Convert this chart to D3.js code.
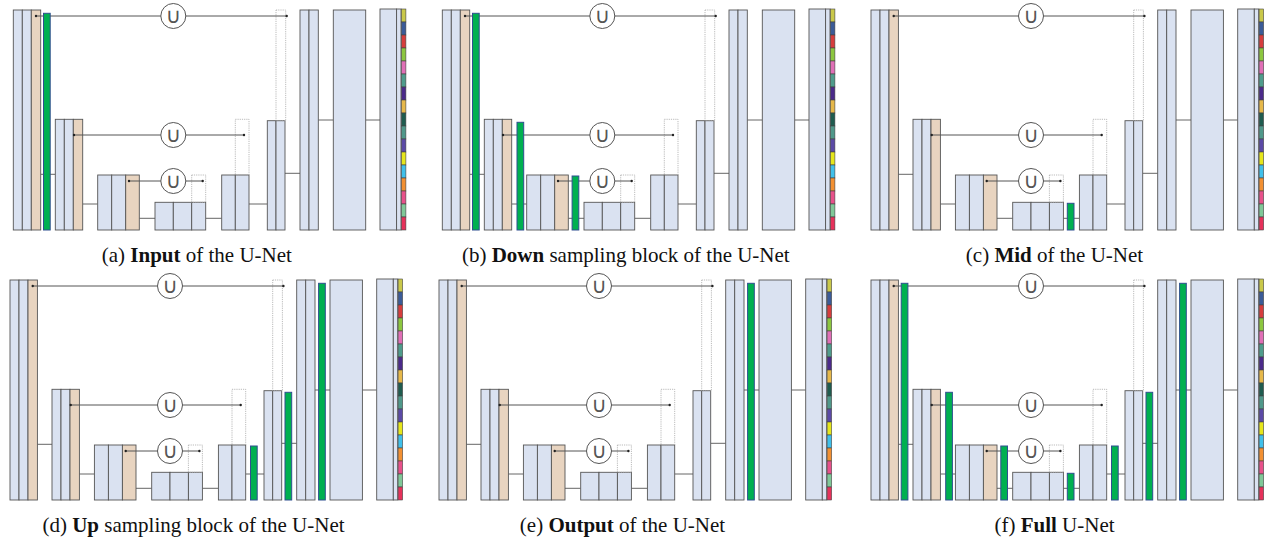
<!DOCTYPE html>
<html>
<head>
<meta charset="utf-8">
<script src="https://cdn.jsdelivr.net/npm/d3@7"></script>
<style>
  html, body { margin: 0; padding: 0; background: #fff; }
  svg { display: block; }
</style>
</head>
<body>
<div id="chart"></div>
<script>
// panels (a)-(f)
const PANEL_IDS = ['(a)', '(b)', '(c)', '(d)', '(e)', '(f)'];
const PANEL_BOLD = ['Input', 'Down', 'Mid', 'Up', 'Output', 'Full'];
const PANEL_REST = [' of the U-Net', ' sampling block of the U-Net', ' of the U-Net',
                    ' sampling block of the U-Net', ' of the U-Net', ' U-Net'];
const PANEL_X = [13.3, 442.3, 871, 10, 439, 871];
const PANEL_TOP = [10, 10, 10, 280, 280, 280];
// which green bars (gap index) appear in each panel
const PANEL_GREENS = [[0], [0, 1, 2], [3], [4, 5, 6], [6], [0, 1, 2, 3, 4, 5, 6]];

// U-Net blocks, layout units (px relative to panel)
const BLOCK_X = [0, 42, 84.4, 141.7, 208.4, 254, 286.7, 320, 366.7];
const BLOCK_TOP = [0, 109.3, 165, 192.3, 165, 110.7, 0, 0, -1];
const BLOCK_COLS = [
  [9, 9, 9.4], [9, 9, 9.4], [14, 14, 13.6], [18.3, 18.4, 14],
  [13.6, 13.7], [8.7, 9], [9, 9.3], [32.4], [16.6, 4.4]
];
const BLOCK_TAN = [2, 2, 2, -1, -1, -1, -1, -1, -1]; // tan column index
const BLOCK_BOTTOM = 220;

// lines between consecutive blocks
const LINK_Y = [164.3, 194, 208.3, 208.3, 194, 163.3, 110, 110];

// skip connections
const SKIP_Y = [6, 125, 171];
const SKIP_X1 = [22.7, 60.7, 115.7];
const SKIP_X2 = [273.4, 230.7, 189.4];
const SKIP_CX = 160;

// dotted placeholders
const DOT_X = [178.4, 222, 262.7];
const DOT_W = [14, 13.7, 9.7];
const DOT_Y = [165, 109.3, 0];
const DOT_H = [27.3, 55.7, 110.7];

// green bars
const GREEN_X = [30.2, 74.7, 129.8, 196.3, 240.5, 275, 308.6];
const GREEN_TOP = [3.3, 112.3, 166, 193.3, 166, 112.3, 3.3];
const GREEN_W = 6.7;

// output class strip
const STRIP_X = 388.1;
const STRIP_W = 4.5;
const STRIP_COLORS = [
  '#c9c84a', '#3b5b98', '#d63d3d', '#8cc63f', '#e06fb6', '#4f9c8c', '#4b2a8a',
  '#e6b84a', '#1f5c4f', '#4f988a', '#5b4aa6', '#e6e61c', '#40c0ea', '#f29032',
  '#e8518a', '#80c898', '#e6315a'
];

const BLUE = '#dae2f1', TAN = '#e8d4c0', EDGE = '#555';
const GREEN = '#00b050', GREEN_EDGE = '#2f4f8f';

const W = 1269, H = 541;
const svg = d3.select('#chart').append('svg').attr('width', W).attr('height', H);

PANEL_IDS.forEach((pid, p) => {
  const x = d3.scaleLinear().domain([0, 100]).range([PANEL_X[p], PANEL_X[p] + 100]);
  const y = d3.scaleLinear().domain([0, 100]).range([PANEL_TOP[p], PANEL_TOP[p] + 100]);
  const g = svg.append('g');

  // links between blocks
  LINK_Y.forEach((ly, i) => {
    const a = BLOCK_X[i] + d3.sum(BLOCK_COLS[i]);
    g.append('line')
      .attr('x1', x(a)).attr('x2', x(BLOCK_X[i + 1]))
      .attr('y1', y(ly)).attr('y2', y(ly))
      .attr('stroke', '#666').attr('stroke-width', 1);
  });

  // blocks
  BLOCK_X.forEach((bx, i) => {
    let cx = bx;
    BLOCK_COLS[i].forEach((w, c) => {
      g.append('rect')
        .attr('x', x(cx)).attr('y', y(BLOCK_TOP[i]))
        .attr('width', x(cx + w) - x(cx))
        .attr('height', y(BLOCK_BOTTOM) - y(BLOCK_TOP[i]))
        .attr('fill', c === BLOCK_TAN[i] ? TAN : BLUE)
        .attr('stroke', EDGE).attr('stroke-width', 0.9);
      cx += w;
    });
  });

  // class strip
  const segH = (BLOCK_BOTTOM - BLOCK_TOP[8]) / STRIP_COLORS.length;
  STRIP_COLORS.forEach((col, k) => {
    const t = BLOCK_TOP[8] + k * segH;
    g.append('rect')
      .attr('x', x(STRIP_X)).attr('y', y(t))
      .attr('width', x(STRIP_X + STRIP_W) - x(STRIP_X))
      .attr('height', y(t + segH) - y(t))
      .attr('fill', col).attr('stroke', '#444').attr('stroke-width', 0.6);
  });

  // dotted placeholders
  DOT_X.forEach((dx, i) => {
    g.append('rect')
      .attr('x', x(dx)).attr('y', y(DOT_Y[i]))
      .attr('width', x(dx + DOT_W[i]) - x(dx))
      .attr('height', y(DOT_Y[i] + DOT_H[i]) - y(DOT_Y[i]))
      .attr('fill', 'none').attr('stroke', '#aaa')
      .attr('stroke-width', 0.8).attr('stroke-dasharray', '1.2,1');
  });

  // skip lines
  SKIP_Y.forEach((sy, i) => {
    g.append('line')
      .attr('x1', x(SKIP_X1[i])).attr('x2', x(SKIP_X2[i]))
      .attr('y1', y(sy)).attr('y2', y(sy))
      .attr('stroke', '#555').attr('stroke-width', 1);
  });

  // green bars
  PANEL_GREENS[p].forEach(k => {
    g.append('rect')
      .attr('x', x(GREEN_X[k])).attr('y', y(GREEN_TOP[k]))
      .attr('width', x(GREEN_X[k] + GREEN_W) - x(GREEN_X[k]))
      .attr('height', y(BLOCK_BOTTOM) - y(GREEN_TOP[k]))
      .attr('fill', GREEN).attr('stroke', GREEN_EDGE).attr('stroke-width', 1);
  });

  // union circles + endpoint dots
  SKIP_Y.forEach((sy, i) => {
    g.append('circle')
      .attr('cx', x(SKIP_CX)).attr('cy', y(sy))
      .attr('r', 12.5)
      .attr('fill', '#fff').attr('stroke', '#555').attr('stroke-width', 1);
    g.append('text')
      .attr('x', x(SKIP_CX)).attr('y', y(sy) + 7)
      .attr('text-anchor', 'middle')
      .attr('font-family', 'DejaVu Sans')
      .attr('font-size', 21)
      .attr('fill', '#555')
      .text('∪');
    [SKIP_X1[i], SKIP_X2[i]].forEach(ex => {
      g.append('circle')
        .attr('cx', x(ex)).attr('cy', y(sy)).attr('r', 1.2)
        .attr('fill', '#222');
    });
  });

  // caption
  const cap = g.append('text')
    .attr('x', x(183.5)).attr('y', y(251.7))
    .attr('text-anchor', 'middle')
    .attr('font-family', 'Liberation Serif, Times New Roman, serif')
    .attr('font-size', 21)
    .attr('fill', '#111');
  cap.append('tspan').text(pid + ' ');
  cap.append('tspan').attr('font-weight', 'bold').text(PANEL_BOLD[p]);
  cap.append('tspan').text(PANEL_REST[p]);
});
</script>
</body>
</html>
